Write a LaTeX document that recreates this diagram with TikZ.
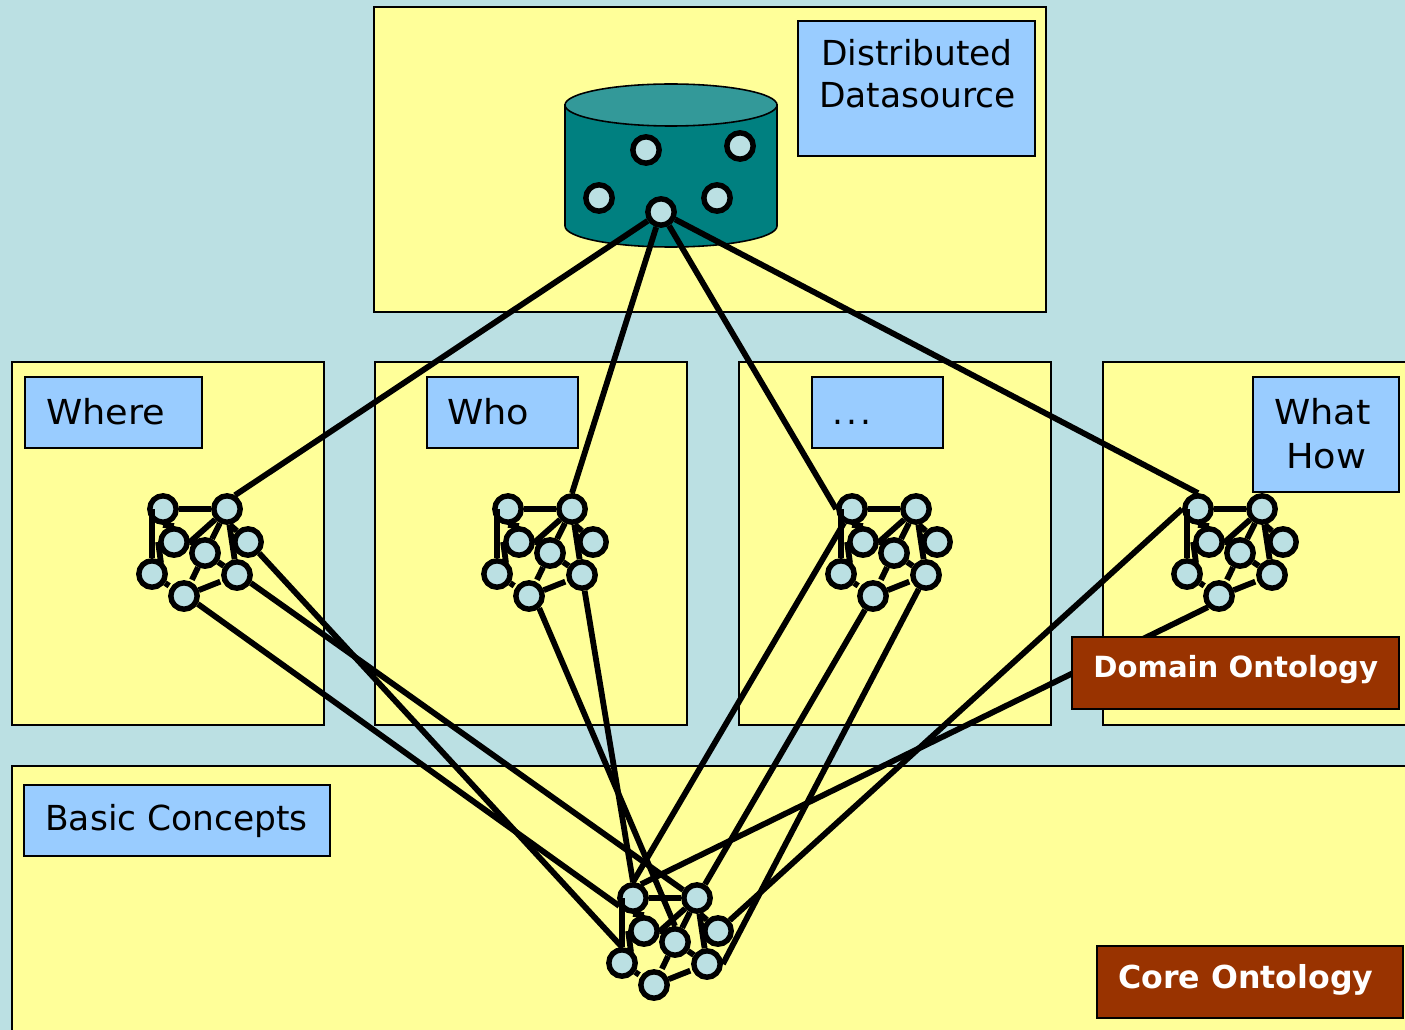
\documentclass[tikz,border=0pt]{standalone}
\usepackage{fontspec}
\setmainfont{DejaVu Sans}
\newfontfamily\widefont[FakeStretch=1.065]{DejaVu Sans}
\usetikzlibrary{shapes.geometric}

\definecolor{seablue}{HTML}{BBE0E3}
\definecolor{paleyellow}{HTML}{FFFF99}
\definecolor{skyblue}{HTML}{99CCFF}
\definecolor{rust}{HTML}{993300}
\definecolor{dbteal}{HTML}{008080}
\definecolor{dbtop}{HTML}{339999}

\tikzset{
  panel/.style={fill=paleyellow, draw=black, line width=0.9pt},
  tagbox/.style={fill=skyblue, draw=black, line width=0.7pt},
  tagtext/.style={anchor=base west, inner sep=0pt, font=\fontsize{19.6pt}{23pt}\selectfont},
  widetag/.style={tagtext, font=\fontsize{19.6pt}{23pt}\widefont},
  corebox/.style={fill=rust, draw=black, line width=0.9pt},
  coretext/.style={anchor=base west, inner sep=0pt, text=white, font=\fontsize{16.6pt}{19pt}\selectfont\bfseries},
  concept/.style={circle, draw=black, fill=seablue, line width=3.1pt, minimum size=15pt, inner sep=0pt},
  link/.style={draw=black, line width=3.3pt},
  gaplink/.style={link, shorten >=1.2pt}
}

% One small concept graph, the first node at #2,#3
\newcommand{\ontograph}[3]{
  \begin{scope}[shift={(#2,#3)}]
    \node[concept] (#1a) at (0,0) {};
    \node[concept] (#1b) at (64,0) {};
    \node[concept] (#1c) at (11,33) {};
    \node[concept] (#1d) at (42,44) {};
    \node[concept] (#1e) at (85,33) {};
    \node[concept] (#1f) at (-11,65) {};
    \node[concept] (#1g) at (74,66) {};
    \node[concept] (#1h) at (21,87) {};
    \coordinate (#1top) at (-11,0);
    \coordinate (#1foot) at (-2,54);
    \coordinate (#1spur) at (32,34);

    \draw[link] (#1a) -- (#1b);
    \draw[link] (#1top) -- (#1f.north);
    \draw[link] (#1a.south) -- (#1c.north);
    \draw[link] (#1c.west) -- (#1foot);
    \draw[link] (#1c.east) -- (#1spur);
    \draw[link] (#1b) -- (#1c.east);
    \draw[link] (#1b) -- (#1d);
    \draw[link] (#1b) -- (#1g);
    \draw[link] (#1b.-80) -- (#1e.135);
    \draw[link] (#1d) -- (#1g);
    \draw[gaplink] (#1d) -- (#1h);
    \draw[gaplink] (#1f) -- (#1h);
    \draw[gaplink] (#1h) -- (#1g);
  \end{scope}
}

\begin{document}
\begin{tikzpicture}[x=0.02cm, y=-0.02cm]

    \useasboundingbox (0,0) rectangle (1405,1030);
    \clip (0,0) rectangle (1405,1030);
    \fill[seablue] (0,0) rectangle (1405,1030);

    % Panels
    \draw[panel] (374,7) rectangle (1046,312);
    \draw[panel] (12,362) rectangle (324,725);
    \draw[panel] (375,362) rectangle (687,725);
    \draw[panel] (739,362) rectangle (1051,725);
    \draw[panel] (1103,362) rectangle (1420,725);
    \draw[panel] (12,766) rectangle (1420,1050);

    % Tags
    \draw[tagbox] (798,21) rectangle (1035,156);
    \node[tagtext] (tagdist) at (821,66) {Distributed};
    \node[tagtext] (tagsource) at (819,108) {Datasource};
    \draw[tagbox] (25,377) rectangle (202,448);
    \node[widetag] (tagwhere) at (46,424) {Where};
    \draw[tagbox] (427,377) rectangle (578,448);
    \node[widetag] (tagwho) at (447,424) {Who};
    \draw[tagbox] (812,377) rectangle (943,448);
    \node[tagtext] (tagetc) at (832.5,424) {.\hspace{1.7pt}.\hspace{1.7pt}.};
    \draw[tagbox] (1253,377) rectangle (1399,492);
    \node[widetag] (tagwhat) at (1274,424) {What};
    \node[widetag] (taghow) at (1286,468) {How};
    \draw[tagbox] (24,785) rectangle (330,856);
    \node[tagtext] (tagbasic) at (45,830) {Basic Concepts};

    % Cylinder
    \draw[fill=dbteal, line width=0.9pt] (565,105) -- (565,226)
      arc[start angle=180, end angle=0, x radius=106, y radius=21]
      -- (777,105) -- cycle;
    \draw[fill=dbtop, line width=0.9pt] (671,105) ellipse [x radius=106, y radius=21];

    % Points in the cylinder
    \node[concept] (dba) at (646,150) {};
    \node[concept] (dbb) at (740,146) {};
    \node[concept] (dbc) at (599,198) {};
    \node[concept] (dbd) at (717,198) {};
    \node[concept] (dbe) at (661,212) {};

    % Concept graphs
    \ontograph{where}{163}{509}
    \ontograph{who}{508}{509}
    \ontograph{etc}{852}{509}
    \ontograph{what}{1198}{509}
    \ontograph{core}{633}{898}

    % Links: datasource to the graphs
    \draw[link] (dbe) -- (whereb.60);
    \draw[link] (dbe) -- (whob.north);
    \draw[link] (dbe) -- (etca.west);
    \draw[link] (dbe) -- (whata.north);

    % Links: graphs to the core
    \draw[link] (wheree.south east) -- (coref.north);
    \draw[link] (whereg.-30) -- (coreb.150);
    \draw[link] (whereh.-30) -- (corea.210);
    \draw[link] (whoh.-50) -- (cored.north);
    \draw[link] (whog) -- (corea.north);
    \draw[link] (etca.240) -- (corea.north);
    \draw[link] (etch) -- (coreb);
    \draw[link] (etcg) -- (coreg.east);
    \draw[link] (whata.west) -- (coree);
    \draw[link] (whath.south west) -- (corea.60);

    % Ontology boxes
    \draw[corebox] (1072,637) rectangle (1399,709);
    \node[coretext] (tagdomain) at (1093,677) {Domain Ontology};
    \draw[corebox] (1097,946) rectangle (1403,1018);
    \node[coretext, font=\fontsize{18pt}{19pt}\selectfont\bfseries] (tagcore) at (1118,988) {Core Ontology};

\end{tikzpicture}
\end{document}
